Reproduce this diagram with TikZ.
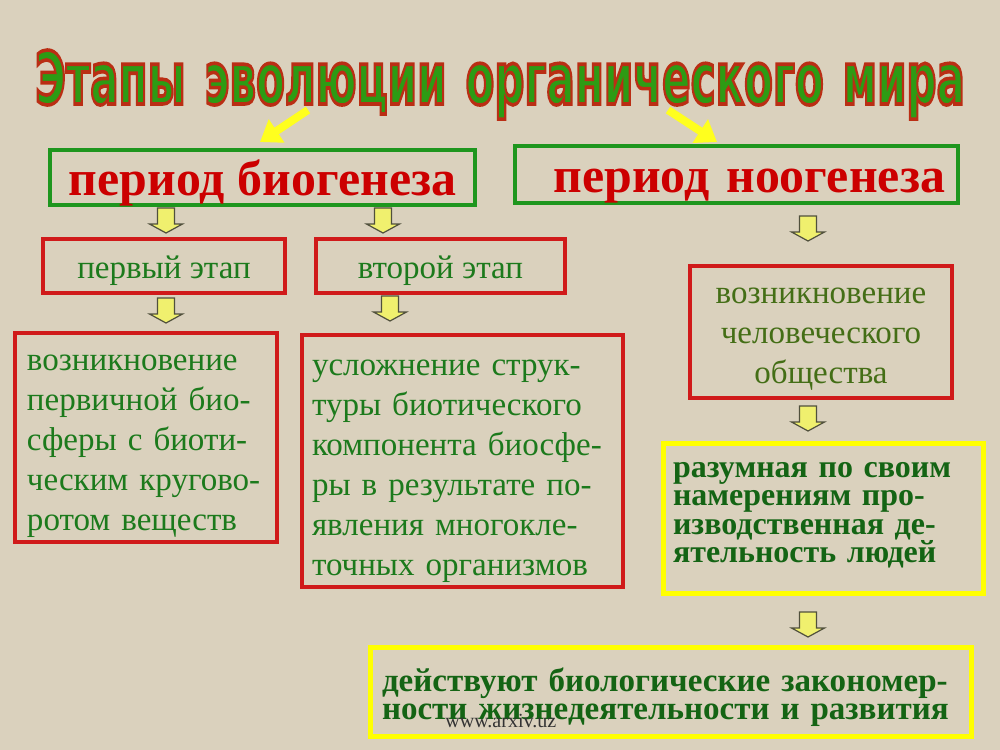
\documentclass[tikz,border=0pt]{standalone}
\usepackage{fontspec}
\usepackage{graphicx}
\setmainfont{Liberation Serif}
\newfontfamily\titlefont{DejaVu Sans}
\usetikzlibrary{arrows.meta}
\def\U{0.02cm}
\definecolor{bg}{RGB}{218,209,189}
\definecolor{boxgreen}{RGB}{30,150,30}
\definecolor{boxred}{RGB}{208,26,26}
\definecolor{redtext}{RGB}{204,0,0}
\definecolor{greentext}{RGB}{28,122,28}
\definecolor{olivetext}{RGB}{68,110,22}
\definecolor{boldgreen}{RGB}{20,100,20}
\definecolor{titlegreen}{RGB}{45,155,20}
\definecolor{arrowyellow}{RGB}{240,240,110}
\definecolor{arrowedge}{RGB}{80,80,60}
\definecolor{tyellow}{RGB}{255,255,30}
\definecolor{ybox}{RGB}{255,255,0}
\begin{document}
\begin{tikzpicture}[x=0.02cm,y=-0.02cm,
  gbox/.style={draw=boxgreen, line width=4*\U, inner sep=0pt},
  rbox/.style={draw=boxred, line width=4*\U, inner sep=0pt},
  yboxst/.style={draw=ybox, line width=5*\U, inner sep=0pt},
  periodfont/.style={font=\fontsize{28.4}{30}\selectfont\bfseries, text=redtext},
  bodyfont/.style={font=\fontsize{18.8}{22.8}\selectfont, text=greentext},
  boldfont/.style={font=\fontsize{18.2}{16.3}\selectfont\bfseries, text=boldgreen},
  titlest/.style={inner sep=0pt, anchor=base},
  tarrow/.style={draw=tyellow, line width=8*\U, -{Triangle[length=20*\U, width=27*\U]}},
  darrow/.pic={\draw[fill=arrowyellow, draw=arrowedge, line width=1.2*\U]
     (-8.5,0) -- (8.5,0) -- (8.5,16) -- (16.5,16) -- (0,25) -- (-16.5,16) -- (-8.5,16) -- cycle;}
]
\fill[bg] (0,0) rectangle (1000,750);
\useasboundingbox (0,0) rectangle (1000,750);

% title (green fill, red outline via text render mode 2)
\node[titlest, text=titlegreen] (title) at (500,104)
  {\resizebox{18.6cm}{1.08cm}{\special{pdf:literal direct 2 Tr 0.5 w 0.73 0.18 0.08 RG}\titlefont\bfseries Этапы\hspace{0.45em}эволюции\hspace{0.45em}органического\hspace{0.45em}мира\special{pdf:literal direct 0 Tr}}};

% title arrows
\coordinate (a1s) at (308,110);
\coordinate (a1e) at (260,142);
\coordinate (a2s) at (668,110);
\coordinate (a2e) at (717,142);
\draw[tarrow] (a1s) -- (a1e);
\draw[tarrow] (a2s) -- (a2e);

% period boxes
\node[gbox, periodfont, minimum width=425*\U, minimum height=55*\U,
  text height=35*\U, text depth=0pt] (bio) at (262.5,177.5) {период биогенеза};
\node[gbox, periodfont, minimum width=443*\U, minimum height=57*\U,
  inner xsep=13*\U, text width=417*\U, align=right,
  text height=35*\U, text depth=0pt] (noo) at (736.5,174.5) {период ноогенеза};

% stage boxes
\node[rbox, bodyfont, minimum width=242*\U, minimum height=54*\U,
  text height=24*\U, text depth=0pt] (first) at (164,266) {первый этап};
\node[rbox, bodyfont, minimum width=249*\U, minimum height=54*\U,
  text height=24*\U, text depth=0pt] (second) at (440.5,266) {второй этап};

\node[rbox, bodyfont, text=olivetext, minimum width=262*\U, minimum height=132*\U,
  inner xsep=10*\U, text width=242*\U, align=center,
  text height=0pt, text depth=58*\U] (human) at (821,332)
  {возникновение\\человеческого\\общества};

\node[rbox, bodyfont, minimum width=262*\U, minimum height=209*\U,
  inner xsep=12*\U, text width=238*\U, align=left,
  text height=0pt, text depth=135*\U] (bioL) at (146,437.5)
  {возникновение\\первичной био-\\сферы с биоти-\\ческим кругово-\\ротом веществ};

\node[rbox, bodyfont, minimum width=321*\U, minimum height=252*\U,
  inner xsep=10*\U, text width=301*\U, align=left,
  text height=0pt, text depth=172*\U] (bioM) at (462.5,461)
  {усложнение струк-\\туры биотического\\компонента биосфе-\\ры в результате по-\\явления многокле-\\точных организмов};

\node[yboxst, boldfont, minimum width=320*\U, minimum height=150*\U,
  inner xsep=10*\U, text width=300*\U, align=left,
  text height=0pt, text depth=82*\U] (reason) at (823,518)
  {\makebox[5.7cm][s]{разумная по своим}\\\makebox[5.54cm][s]{намерениям про-}\\изводственная де-\\ятельность людей};

\node[yboxst, font=\fontsize{18.8}{16.5}\selectfont\bfseries, text=boldgreen,
  minimum width=601*\U, minimum height=89*\U,
  inner xsep=12*\U, text width=577*\U, align=left,
  text height=0pt, text depth=1*\U] (laws) at (670.5,691.5)
  {действуют биологические закономер-\\ности жизнедеятельности и развития};

% block arrows
\pic at (166,208) {darrow};
\pic at (383,208) {darrow};
\pic at (808,216) {darrow};
\pic at (166,298) {darrow};
\pic at (390,296) {darrow};
\pic at (808,406) {darrow};
\pic at (808,612) {darrow};

% site label
\node[anchor=base west, inner sep=0pt, font=\fontsize{11.4}{12}\selectfont, text=black!80] (site) at (445,727) {www.arxiv.uz};
\end{tikzpicture}
\end{document}
